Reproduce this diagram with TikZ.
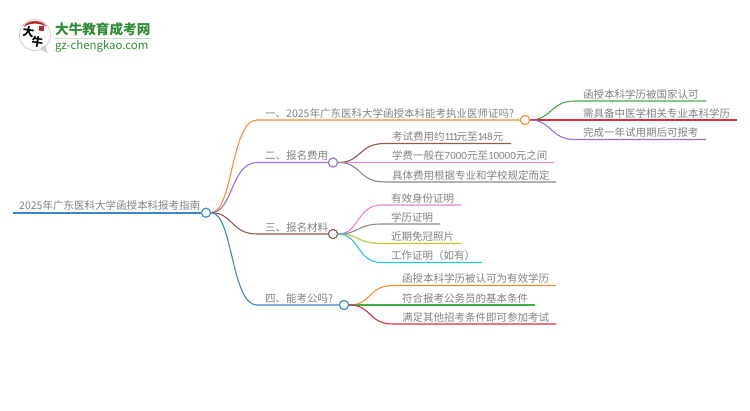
\documentclass[tikz,border=0pt]{standalone}
\usepackage{fontspec}
\setmainfont{Noto Sans CJK SC}
\newfontfamily\digitfont{Carlito}
\newcommand{\nm}[1]{{\digitfont\fontsize{11pt}{12pt}\selectfont #1}}
\newcommand{\nr}{1\kern-1.6pt}
\definecolor{corange}{HTML}{FF8C2B}
\definecolor{cpurple}{HTML}{9C6ECF}
\definecolor{cbrown}{HTML}{8D5B52}
\definecolor{cblue}{HTML}{3A87C8}
\definecolor{cgreen}{HTML}{3CB043}
\definecolor{cred}{HTML}{D9313C}
\definecolor{cpink}{HTML}{EE7FD0}
\definecolor{cgray}{HTML}{8A8A8A}
\definecolor{colive}{HTML}{C2C232}
\definecolor{ccyan}{HTML}{28C8DC}
\definecolor{clogo}{HTML}{2F8B37}
\tikzset{
  hub/.style={circle,draw,fill=white,line width=1pt,minimum size=9pt,inner sep=0pt},
  lbl/.style={anchor=base west,inner sep=0pt,text=black!50,font=\fontsize{10.5pt}{12pt}\selectfont},
  link/.style={line width=1.1pt},
  brush/.style={inner sep=0pt,font=\fontsize{11.5pt}{12pt}\bfseries\selectfont}
}
\begin{document}
\begin{tikzpicture}[x=1pt,y=-1pt]
\useasboundingbox (0,0) rectangle (750,410);
% logo
\node[circle,draw=black!20,fill=white,line width=0.8pt,minimum size=31pt,inner sep=0pt] (bubble) at (35,35) {};
\fill[black!20] (40,49) -- (48,53) -- (45,45) -- cycle;
\fill[cred!85!black] (23.5,27) .. controls (27,19) and (43,19) .. (46.5,27) .. controls (40,22.5) and (30,22.5) .. (23.5,27) -- cycle;
\node[brush,rotate=-8] (da) at (28.5,32) {大};
\node[brush,rotate=-8] (niu) at (37.5,41.5) {牛};
\node[fill=cred!85!black,minimum size=5pt,inner sep=0pt] (seal) at (41.5,28.5) {};
\node[anchor=base west,inner sep=0pt,text=clogo,font=\fontsize{13.6pt}{14pt}\bfseries\selectfont] (logoname) at (55,34.5) {大牛教育成考网};
\node[anchor=base west,inner sep=0pt,text=clogo,font=\fontsize{11.4pt}{12pt}\selectfont] (logourl) at (55,49) {gz-chengkao.com};
\draw[clogo!25,line width=0.7pt] (logoname.south west|-0,38.5) -- (logoname.south east|-0,38.5);

% hubs
\coordinate (rootstart) at (13,212.7);
\node[hub,draw=cblue] (root) at (206,212.7) {};
\node[hub,draw=corange] (one) at (525,120) {};
\node[hub,draw=cpurple] (two) at (333,162.5) {};
\node[hub,draw=cbrown] (three) at (333,234) {};
\node[hub,draw=cblue] (four) at (344,305) {};

% branch ends
\coordinate (onea) at (257,120);
\coordinate (twoa) at (257,162.5);
\coordinate (threea) at (257,234);
\coordinate (foura) at (257,305);

% leaf ends
\coordinate (la1) at (575,101); \coordinate (lb1) at (706,101);
\coordinate (la2) at (575,120); \coordinate (lb2) at (737,120);
\coordinate (la3) at (575,139.5); \coordinate (lb3) at (706,139.5);
\coordinate (ma1) at (385,143.5); \coordinate (mb1) at (511,143.5);
\coordinate (ma2) at (385,162.5); \coordinate (mb2) at (554,162.5);
\coordinate (ma3) at (385,182); \coordinate (mb3) at (556,182);
\coordinate (na1) at (382,205); \coordinate (nb1) at (461,205);
\coordinate (na2) at (382,224); \coordinate (nb2) at (440,224);
\coordinate (na3) at (382,243.5); \coordinate (nb3) at (461,243.5);
\coordinate (na4) at (382,262.5); \coordinate (nb4) at (482,262.5);
\coordinate (pa1) at (393,285.5); \coordinate (pb1) at (556,285.5);
\coordinate (pa2) at (393,305); \coordinate (pb2) at (535,305);
\coordinate (pa3) at (393,324); \coordinate (pb3) at (556,324);

% connectors
\draw[link,cblue,line width=1.6pt] (rootstart) -- (root);
\draw[link,corange] (root) .. controls (233,212.7) and (231,120) .. (onea) -- (one);
\draw[link,cpurple] (root) .. controls (233,212.7) and (231,162.5) .. (twoa) -- (two);
\draw[link,cbrown] (root) .. controls (233,212.7) and (231,234) .. (threea) -- (three);
\draw[link,cblue] (root) .. controls (233,212.7) and (231,305) .. (foura) -- (four);

\draw[link,cgreen] (one) .. controls (552,120) and (550,101) .. (la1) -- (lb1);
\draw[link,cred] (one) -- (la2) -- (lb2);
\draw[link,cpurple] (one) .. controls (552,120) and (550,139.5) .. (la3) -- (lb3);

\draw[link,cbrown] (two) .. controls (362,162.5) and (358,143.5) .. (ma1) -- (mb1);
\draw[link,cpink] (two) -- (ma2) -- (mb2);
\draw[link,cgray] (two) .. controls (362,162.5) and (358,182) .. (ma3) -- (mb3);

\draw[link,cpink] (three) .. controls (360,234) and (356,205) .. (na1) -- (nb1);
\draw[link,cgray] (three) .. controls (360,234) and (356,224) .. (na2) -- (nb2);
\draw[link,colive] (three) .. controls (360,234) and (356,243.5) .. (na3) -- (nb3);
\draw[link,ccyan] (three) .. controls (360,234) and (356,262.5) .. (na4) -- (nb4);

\draw[link,corange] (four) .. controls (372,305) and (368,285.5) .. (pa1) -- (pb1);
\draw[link,cgreen] (four) -- (pa2) -- (pb2);
\draw[link,cred] (four) .. controls (372,305) and (368,324) .. (pa3) -- (pb3);

% redraw hubs on top
\node[hub,draw=cblue] at (root) {};
\node[hub,draw=corange] at (one) {};
\node[hub,draw=cpurple] at (two) {};
\node[hub,draw=cbrown] at (three) {};
\node[hub,draw=cblue] at (four) {};

% labels
\node[lbl] (roottext) at (19,209.5) {2025年广东医科大学函授本科报考指南};
\node[lbl] (onetext) at (265,117) {一、2025年广东医科大学函授本科能考执业医师证吗?};
\node[lbl] (twotext) at (265,159.5) {二、报名费用};
\node[lbl] (threetext) at (265,231) {三、报名材料};
\node[lbl] (fourtext) at (265,302) {四、能考公吗?};

\node[lbl] (lt1) at (583,98) {函授本科学历被国家认可};
\node[lbl] (lt2) at (583,117) {需具备中医学相关专业本科学历};
\node[lbl] (lt3) at (583,136.5) {完成一年试用期后可报考};

\node[lbl] (mt1) at (392,140.5) {考试费用约\nm{\nr\nr\nr}元至\nm{\nr 48}元};
\node[lbl] (mt2) at (392,159.5) {学费一般在\nm{7000}元至\nm{10000}元之间};
\node[lbl] (mt3) at (392,179) {具体费用根据专业和学校规定而定};

\node[lbl] (nt1) at (391,202) {有效身份证明};
\node[lbl] (nt2) at (391,221) {学历证明};
\node[lbl] (nt3) at (391,240.5) {近期免冠照片};
\node[lbl] (nt4) at (391,259.5) {工作证明（如有）};

\node[lbl] (pt1) at (402,282.5) {函授本科学历被认可为有效学历};
\node[lbl] (pt2) at (402,302) {符合报考公务员的基本条件};
\node[lbl] (pt3) at (402,321) {满足其他招考条件即可参加考试};
\end{tikzpicture}
\end{document}
